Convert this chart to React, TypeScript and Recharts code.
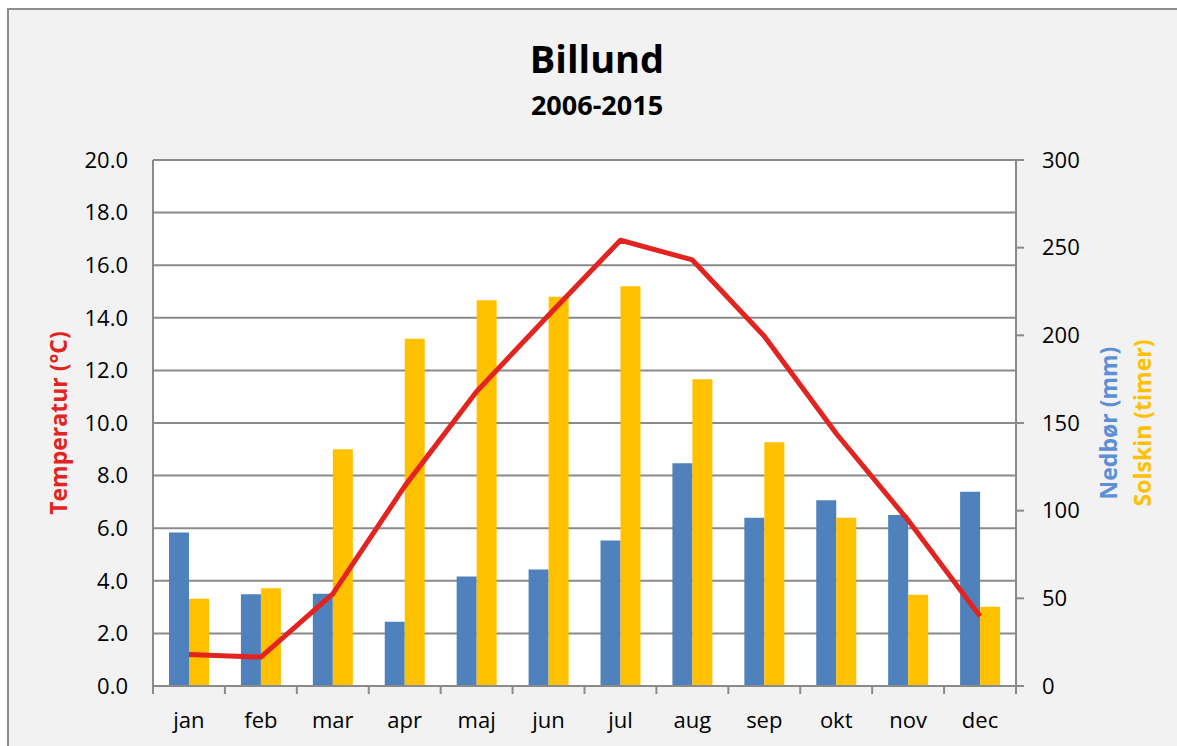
import React from 'react';
import { ComposedChart, Bar, Line, XAxis, YAxis, CartesianGrid } from 'recharts';

const months = ['jan', 'feb', 'mar', 'apr', 'maj', 'jun', 'jul', 'aug', 'sep', 'okt', 'nov', 'dec'];
const temperature = [1.2, 1.1, 3.5, 7.6, 11.2, 14.1, 16.95, 16.2, 13.3, 9.6, 6.3, 2.65];
const precipitation = [87.5, 52.3, 52.6, 36.7, 62.5, 66.5, 83, 127, 96, 106, 97.5, 110.8];
const sunshine = [49.8, 55.7, 135, 198, 220, 222, 228, 175, 139, 96, 52, 45.2];
const leftTicks = [0, 2, 4, 6, 8, 10, 12, 14, 16, 18, 20];
const rightTicks = [0, 50, 100, 150, 200, 250, 300];

const data = months.map((m, i) => ({
  month: m,
  temp: temperature[i],
  rain: precipitation[i],
  sun: sunshine[i],
}));

const W = 1177;
const H = 746;
const MARGIN = { top: 160, right: 101, bottom: 0, left: 93 };
const YW = 60;
const XH = 60;
const PLOT_W = W - MARGIN.left - MARGIN.right - 2 * YW;

const FONT = '"Open Sans", "Liberation Sans", sans-serif';
const GRID = '#8a8a8a';

const XTick = (props: any) => {
  const { x, y, payload, index } = props;
  const band = PLOT_W / months.length;
  const axisY = y;
  return (
    <g>
      <line x1={x - band / 2} x2={x - band / 2} y1={axisY} y2={axisY + 8} stroke={GRID} strokeWidth={2} />
      {index === months.length - 1 && (
        <line x1={x + band / 2} x2={x + band / 2} y1={axisY} y2={axisY + 8} stroke={GRID} strokeWidth={2} />
      )}
      <text x={x} y={axisY + 42} textAnchor="middle" fontSize={22} fill="#000" fontFamily={FONT}>
        {payload.value}
      </text>
    </g>
  );
};

const LeftLabel = (props: any) => {
  const vb = props.viewBox;
  const cx = vb.x - 35;
  const cy = vb.y + vb.height / 2;
  return (
    <text
      x={cx}
      y={cy}
      transform={`rotate(-90 ${cx} ${cy})`}
      textAnchor="middle"
      dominantBaseline="central"
      fontSize={23}
      fontWeight="bold"
      fill="#e2231f"
      fontFamily={FONT}
    >
      Temperatur (°C)
    </text>
  );
};

const RightLabel = (props: any) => {
  const vb = props.viewBox;
  const cy = vb.y + vb.height / 2;
  const x1 = vb.x + 92;
  const x2 = vb.x + 126;
  return (
    <g>
      <text
        x={x1}
        y={cy}
        transform={`rotate(-90 ${x1} ${cy})`}
        textAnchor="middle"
        dominantBaseline="central"
        fontSize={23}
        fontWeight="bold"
        fill="#5b8fd6"
        fontFamily={FONT}
      >
        Nedbør (mm)
      </text>
      <text
        x={x2}
        y={cy}
        transform={`rotate(-90 ${x2} ${cy})`}
        textAnchor="middle"
        dominantBaseline="central"
        fontSize={23}
        fontWeight="bold"
        fill="#ffc000"
        fontFamily={FONT}
      >
        Solskin (timer)
      </text>
    </g>
  );
};

export default function App() {
  return (
    <div style={{ position: 'fixed', left: 0, top: 0, width: W, height: H, overflow: 'hidden', background: '#fff' }}>
      <div
        style={{
          position: 'absolute',
          left: 7,
          top: 8,
          width: 1250,
          height: 800,
          border: '2px solid #8c8c8c',
          background: '#f2f2f2',
        }}
      />
      <div
        style={{
          position: 'absolute',
          left: 0,
          top: 33,
          width: 1194,
          textAlign: 'center',
          fontFamily: FONT,
          fontWeight: 'bold',
          fontSize: 38,
          lineHeight: '50px',
          color: '#000',
        }}
      >
        Billund
      </div>
      <div
        style={{
          position: 'absolute',
          left: 0,
          top: 87,
          width: 1194,
          textAlign: 'center',
          fontFamily: FONT,
          fontWeight: 'bold',
          fontSize: 27,
          lineHeight: '36px',
          color: '#000',
        }}
      >
        2006-2015
      </div>
      <div style={{ position: 'absolute', left: 0, top: 0 }}>
        <ComposedChart width={W} height={H} data={data} margin={MARGIN} barGap={0} barSize={20}>
          <CartesianGrid yAxisId="left" vertical={false} stroke={GRID} strokeWidth={2} fill="#fff" />
          <XAxis
            dataKey="month"
            height={XH}
            axisLine={{ stroke: GRID, strokeWidth: 2 }}
            tickLine={false}
            tickSize={0}
            tickMargin={0}
            tick={<XTick />}
            interval={0}
          />
          <YAxis
            yAxisId="left"
            orientation="left"
            width={YW}
            domain={[0, 20]}
            ticks={leftTicks}
            interval={0}
            tickFormatter={(v: number) => v.toFixed(1)}
            axisLine={{ stroke: GRID, strokeWidth: 2 }}
            tickLine={false}
            tickSize={0}
            tickMargin={25}
            tick={{ fontSize: 22, fill: '#000', fontFamily: FONT }}
            label={<LeftLabel />}
          />
          <YAxis
            yAxisId="right"
            orientation="right"
            width={YW}
            domain={[0, 300]}
            ticks={rightTicks}
            interval={0}
            axisLine={{ stroke: GRID, strokeWidth: 2 }}
            tickLine={{ stroke: GRID, strokeWidth: 2 }}
            tickSize={8}
            tickMargin={18}
            tick={{ fontSize: 22, fill: '#000', fontFamily: FONT }}
            label={<RightLabel />}
          />
          <Bar yAxisId="right" dataKey="rain" fill="#4f81bd" isAnimationActive={false} />
          <Bar yAxisId="right" dataKey="sun" fill="#ffc000" isAnimationActive={false} />
          <Line
            yAxisId="left"
            dataKey="temp"
            type="linear"
            stroke="#e2231f"
            strokeWidth={5}
            dot={false}
            activeDot={false}
            strokeLinejoin="round"
            isAnimationActive={false}
          />
        </ComposedChart>
      </div>
    </div>
  );
}
